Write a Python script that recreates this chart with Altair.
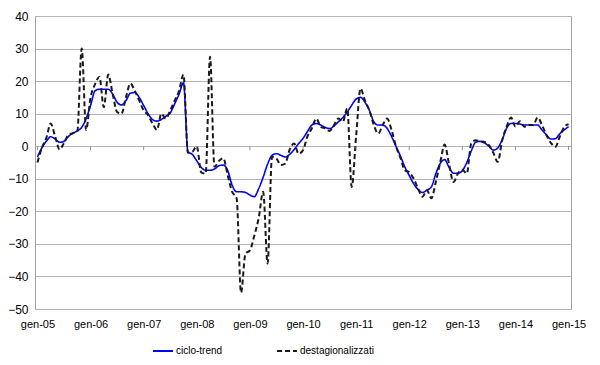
import json
import altair as alt
import pandas as pd

# ---- data (monthly, gen-05 .. gen-15) ----
x_labels = ["gen-05", "gen-06", "gen-07", "gen-08", "gen-09", "gen-10",
            "gen-11", "gen-12", "gen-13", "gen-14", "gen-15"]
series_names = ["ciclo-trend", "destagionalizzati"]

ciclo_trend = [
    -3.3, -0.5, 1.5, 2.9, 2.2, 1.2, 1.5, 3.0, 4.0, 4.7, 5.8, 8.5,          # 2005
    12.5, 17.0, 17.5, 17.5, 17.5, 16.0, 13.5, 12.7, 14.0, 16.3, 16.5, 15.0,  # 2006
    12.5, 10.0, 8.2, 7.7, 8.2, 9.2, 10.2, 13.0, 16.0, 19.5, -1.7, -2.5,     # 2007
    -4.5, -6.5, -7.4, -7.4, -7.0, -6.0, -5.8, -7.5, -12.0, -14.0, -14.0, -14.2,  # 2008
    -15.0, -15.5, -13.0, -9.5, -5.5, -2.8, -2.3, -2.8, -3.3, -2.5, -1.0, 0.8,    # 2009
    2.4, 4.5, 6.5, 7.0, 6.5, 5.8, 5.4, 6.2, 7.5, 8.8, 10.5, 12.6,           # 2010
    14.5, 15.0, 13.5, 11.0, 7.5, 6.5, 6.5, 5.5, 3.0, 0.0, -3.0, -6.3,       # 2011
    -9.0, -11.5, -13.3, -14.2, -13.5, -12.5, -8.5, -5.3, -4.1, -6.5, -8.3, -8.3,  # 2012
    -7.5, -5.0, -1.5, 1.2, 1.5, 1.0, 0.0, -1.2, -0.5, 2.0, 5.5, 7.0,        # 2013
    7.0, 6.8, 6.5, 6.5, 6.5, 6.5, 5.0, 3.5, 2.2, 2.3, 3.8, 5.0,             # 2014
    6.0,                                                                     # gen-15
]

destagionalizzati = [
    -5.0, -0.5, 2.5, 7.0, 3.0, -1.0, 1.0, 3.5, 4.0, 4.5, 30.0, 5.0,         # 2005
    15.0, 19.0, 21.3, 12.0, 22.0, 16.0, 10.5, 10.0, 15.0, 19.3, 17.0, 14.0,  # 2006
    11.0, 9.5, 7.0, 5.0, 10.0, 8.5, 11.0, 14.0, 17.0, 22.0, -2.0, -1.7,     # 2007
    0.0, -8.0, -8.4, 27.5, -6.3, -4.5, -3.7, -9.0, -14.0, -16.0, -45.0, -33.0,   # 2008
    -32.0, -27.5, -22.0, -14.0, -36.0, -3.3, -3.8, -5.8, -5.3, -1.0, 0.8, -2.3,  # 2009
    -1.2, 3.0, 5.5, 8.5, 6.0, 5.5, 4.7, 6.5, 8.5, 7.5, 11.6, -12.5,         # 2010
    3.0, 17.7, 14.0, 11.0, 6.5, 3.9, 6.5, 8.5, 5.0, 0.0, -3.5, -7.4,        # 2011
    -8.0, -10.0, -13.0, -15.5, -13.5, -16.0, -11.0, -5.0, 0.5, -5.5, -11.0, -8.4,  # 2012
    -7.2, -8.4, 0.8, 1.8, 1.5, 1.3, 0.3, -2.0, -4.8, 1.8, 6.0, 8.8,         # 2013
    6.0, 7.7, 6.0, 6.5, 6.5, 8.8, 6.5, 3.4, 1.0, -0.2, 2.9, 5.9,            # 2014
    6.8,                                                                     # gen-15
]

y_ticks = [-50, -40, -30, -20, -10, 0, 10, 20, 30, 40]
x_ticks = [12 * i for i in range(len(x_labels))]

months = list(range(len(ciclo_trend)))
df_trend = pd.DataFrame({"m": months, "v": ciclo_trend, "serie": series_names[0]})
df_dest = pd.DataFrame({"m": months, "v": destagionalizzati, "serie": series_names[1]})
ticks_df = pd.DataFrame({"m": x_ticks, "v": [0] * len(x_ticks), "v2": [-1.2] * len(x_ticks)})

label_expr = json.dumps(x_labels) + "[round(datum.value / 12)]"
FONT = "Liberation Sans"
GRID = "#b4b4b4"

x_scale = alt.Scale(domain=[-0.55, 120.55], nice=False, zero=False)
y_scale = alt.Scale(domain=[-50, 40], nice=False)

x_axis = alt.Axis(values=x_ticks, labelExpr=label_expr, grid=False,
                  domain=False, ticks=False, labelPadding=9, labelOverlap=False,
                  labelFontSize=11, labelFont=FONT, labelColor="#000000", title=None)
y_axis = alt.Axis(values=y_ticks, grid=True, gridColor=GRID, gridWidth=1,
                  domain=False, ticks=False, labelPadding=7, labelOverlap=False,
                  labelFontSize=12, labelFont=FONT, labelColor="#000000", title=None)

color_enc = alt.Color("serie:N",
                      scale=alt.Scale(domain=series_names, range=["#0000ff", "#1a1a1a"]),
                      legend=alt.Legend(title=None))
dash_enc = alt.StrokeDash("serie:N",
                          scale=alt.Scale(domain=series_names, range=[[1, 0], [5, 3]]),
                          legend=alt.Legend(title=None))

trend_line = alt.Chart(df_trend).mark_line(interpolate="monotone", strokeWidth=1.6).encode(
    x=alt.X("m:Q", scale=x_scale, axis=x_axis),
    y=alt.Y("v:Q", scale=y_scale, axis=y_axis),
    color=color_enc,
    strokeDash=dash_enc,
    order=alt.Order("m:Q"),
)

dest_line = alt.Chart(df_dest).mark_line(interpolate="monotone", strokeWidth=2).encode(
    x=alt.X("m:Q", scale=x_scale, axis=x_axis),
    y=alt.Y("v:Q", scale=y_scale, axis=y_axis),
    color=color_enc,
    strokeDash=dash_enc,
    order=alt.Order("m:Q"),
)

zero_ticks = alt.Chart(ticks_df).mark_rule(color="#909090", strokeWidth=1).encode(
    x=alt.X("m:Q", scale=x_scale, axis=x_axis),
    y=alt.Y("v:Q", scale=y_scale, axis=y_axis),
    y2=alt.Y2("v2:Q"),
)

chart = alt.layer(trend_line, dest_line, zero_ticks).properties(
    width=536,
    height=293,
    autosize=alt.AutoSizeParams(type="none"),
    padding={"left": 27, "top": 8, "right": 21, "bottom": 48},
).configure_view(
    stroke="#a0a0a0", strokeWidth=1
).configure_legend(
    orient="none", legendX=117, legendY=324, direction="horizontal",
    symbolType="stroke", symbolSize=400, symbolStrokeWidth=2,
    labelFont=FONT, labelFontSize=10, labelColor="#000000", labelOffset=2,
    columnPadding=50, padding=0,
)

chart.save("out.html", embed_options={"renderer": "svg", "actions": False})
